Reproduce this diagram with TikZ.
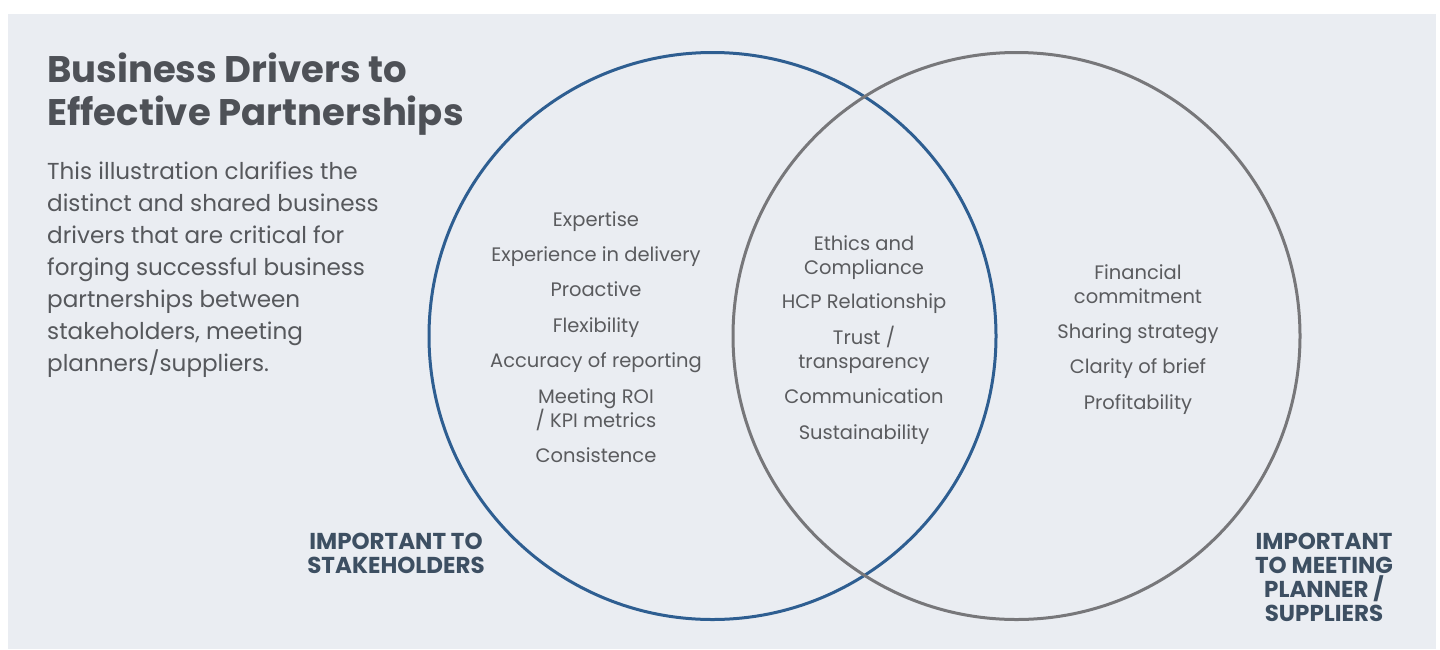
\documentclass[tikz,border=0pt]{standalone}
\usepackage{fontspec}
\setmainfont{Poppins}
\definecolor{bgc}{HTML}{EAEDF2}
\definecolor{blueC}{HTML}{2E5E91}
\definecolor{grayC}{HTML}{77777A}
\definecolor{titleC}{HTML}{4E5157}
\definecolor{bodyC}{HTML}{56585C}
\definecolor{itemC}{HTML}{5A5B5E}
\definecolor{labelC}{HTML}{3D4F62}
\tikzset{
  item/.style={anchor=base, inner sep=0pt, align=center, text=itemC, font=\fontsize{19.5}{24}\selectfont},
  lab/.style={anchor=base, inner sep=0pt, align=center, text=labelC, font=\bfseries\fontsize{23}{24}\selectfont},
  ring/.style={line width=3pt}
}
\begin{document}
\begin{tikzpicture}[x=1pt,y=-1pt]
\useasboundingbox (0,0) rectangle (1440,649);
\fill[white] (0,0) rectangle (1440,649);
\fill[bgc] (8,14) rectangle (1436,649);
\node[anchor=base west, inner sep=0pt, align=left, text=titleC, font=\bfseries\fontsize{37}{43}\selectfont] (title) at (47,125) {Business Drivers to\\Effective Partnerships};
\node[anchor=base west, inner sep=0pt, align=left, text=bodyC, font=\fontsize{23.1}{32}\selectfont] (desc) at (47,371) {This illustration clarifies the\\distinct and shared business\\drivers that are critical for\\forging successful business\\partnerships between\\stakeholders, meeting\\planners/suppliers.};
\draw[ring, blueC] (712.5,336) circle (283.5);
\draw[ring, grayC] (1016.5,336) circle (283.5);
% left
\node[item] (e1) at (596,226) {Expertise};
\node[item] (e2) at (596,261) {Experience in delivery};
\node[item] (e3) at (596,296) {Proactive};
\node[item] (e4) at (596,332) {Flexibility};
\node[item] (e5) at (596,367) {Accuracy of reporting};
\node[item] (e6) at (596,427) {Meeting ROI\\/ KPI metrics};
\node[item] (e7) at (596,462) {Consistence};
% middle
\node[item] (m1) at (864,274) {Ethics and\\Compliance};
\node[item] (m2) at (864,308) {HCP Relationship};
\node[item] (m3) at (864,368) {Trust /\\transparency};
\node[item] (m4) at (864,403) {Communication};
\node[item] (m5) at (864,439) {Sustainability};
% right
\node[item] (r1) at (1138,303) {Financial\\commitment};
\node[item] (r2) at (1138,338) {Sharing strategy};
\node[item] (r3) at (1138,373) {Clarity of brief};
\node[item] (r4) at (1138,409) {Profitability};
% labels
\node[lab] (l1) at (396,573) {IMPORTANT TO\\STAKEHOLDERS};
\node[lab] (l2) at (1324,621) {IMPORTANT\\TO MEETING\\PLANNER /\\SUPPLIERS};
\end{tikzpicture}
\end{document}
